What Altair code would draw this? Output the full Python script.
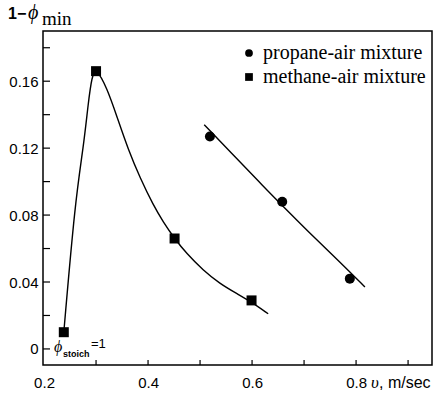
import altair as alt
import pandas as pd

# ---- data ----
meth_x = [0.238, 0.300, 0.451, 0.599]
meth_y = [0.010, 0.166, 0.066, 0.029]
prop_x = [0.519, 0.658, 0.788]
prop_y = [0.127, 0.088, 0.042]

meth_curve_x = [0.238, 0.260, 0.276, 0.285, 0.292, 0.300, 0.321, 0.340, 0.362, 0.385,
                0.410, 0.429, 0.451, 0.474, 0.506, 0.538, 0.571, 0.599, 0.631]
meth_curve_y = [0.010, 0.089, 0.121, 0.147, 0.163, 0.168, 0.156, 0.139, 0.119, 0.102,
                0.086, 0.076, 0.066, 0.057, 0.047, 0.039, 0.033, 0.028, 0.021]
prop_line_x = [0.508, 0.567, 0.619, 0.673, 0.718, 0.769, 0.817]
prop_line_y = [0.134, 0.115, 0.098, 0.081, 0.067, 0.052, 0.037]

series_names = ["propane-air mixture", "methane-air mixture"]
x_ticks = [0.3, 0.4, 0.5, 0.6, 0.7, 0.8, 0.9]
x_labels = [0.2, 0.4, 0.6, 0.8]
y_ticks = [0.0, 0.02, 0.04, 0.06, 0.08, 0.10, 0.12, 0.14, 0.16, 0.18]
y_labels = [0.0, 0.04, 0.08, 0.12, 0.16]

W, H = 389, 334
SANS = "Liberation Sans"
SERIF = "Liberation Serif"

xs = alt.Scale(domain=[0.198, 0.946], nice=False, zero=False)
ys = alt.Scale(domain=[-0.0096, 0.19], nice=False, zero=False)

pts = pd.DataFrame({
    "v": prop_x + meth_x,
    "f": prop_y + meth_y,
    "s": [series_names[0]] * len(prop_x) + [series_names[1]] * len(meth_x),
})
mc = pd.DataFrame({"v": meth_curve_x, "f": meth_curve_y})
pl = pd.DataFrame({"v": prop_line_x, "f": prop_line_y})

x_enc = alt.X("v:Q", scale=xs, axis=alt.Axis(values=x_labels, format=".1f", ticks=False, domain=False,
                                              grid=False, labelFont=SANS, labelFontSize=15,
                                              labelColor="black", labelPadding=10, title=None))
y_enc = alt.Y("f:Q", scale=ys, axis=alt.Axis(values=y_labels, format=".2~f", ticks=False, domain=False,
                                              grid=False, labelFont=SANS, labelFontSize=15,
                                              labelColor="black", labelPadding=5, title=None))

markers = alt.Chart(pts).mark_point(filled=True, size=100, color="black", opacity=1).encode(
    x=x_enc, y=y_enc,
    shape=alt.Shape("s:N", scale=alt.Scale(domain=series_names, range=["circle", "square"]),
                    legend=alt.Legend(title=None, orient="none", legendX=196, legendY=12,
                                      labelFont=SERIF, labelFontSize=20, labelColor="black",
                                      labelLimit=0,
                                      symbolSize=60, symbolFillColor="black", symbolStrokeColor="black",
                                      symbolStrokeWidth=1, labelOffset=4, rowPadding=4, padding=0)),
)

meth_line = alt.Chart(mc).mark_line(color="black", strokeWidth=1.4, interpolate="basis").encode(
    x=alt.X("v:Q", scale=xs), y=alt.Y("f:Q", scale=ys))
prop_line = alt.Chart(pl).mark_line(color="black", strokeWidth=1.4, interpolate="basis").encode(
    x=alt.X("v:Q", scale=xs), y=alt.Y("f:Q", scale=ys))

xt = alt.Chart(pd.DataFrame({"v": x_ticks})).mark_rule(color="black", strokeWidth=1.2).encode(
    x=alt.X("v:Q", scale=xs), y=alt.value(H), y2=alt.value(H - 5))
yt = alt.Chart(pd.DataFrame({"f": y_ticks})).mark_rule(color="black", strokeWidth=1.2).encode(
    y=alt.Y("f:Q", scale=ys), x=alt.value(0), x2=alt.value(7))

one = pd.DataFrame({"a": [0]})


def txt(s, x, y, font, size, style="normal", weight="normal"):
    return alt.Chart(one).mark_text(text=s, font=font, fontSize=size, fontStyle=style, fontWeight=weight,
                                    align="left", baseline="alphabetic", color="black").encode(
        x=alt.value(x), y=alt.value(y))


ox, oy = 43, 31
labels = [
    txt("1\u2212", 8 - ox, 19 - oy, SANS, 16, weight="bold"),
    txt("\u03d5", 28 - ox, 19 - oy, SERIF, 20, style="italic"),
    txt("min", 42 - ox, 25 - oy, SERIF, 19),
    txt("\u03c5", 371 - ox, 388 - oy, SERIF, 17, style="italic"),
    txt(", m/sec", 379 - ox, 388 - oy, SANS, 16),
    txt("\u03d5", 54 - ox, 352 - oy, SERIF, 16, style="italic"),
    txt("stoich", 63 - ox, 357 - oy, SANS, 9, weight="bold"),
    txt("=1", 91 - ox, 348 - oy, SANS, 13),
]

chart = alt.layer(xt, yt, meth_line, prop_line, markers, *labels).properties(
    width=W, height=H,
    autosize=alt.AutoSizeParams(type="none"),
    padding={"left": ox, "top": oy, "right": 5, "bottom": 31},
    background="white",
).configure_view(stroke="black", strokeWidth=1.5)

chart.save("out.html", embed_options={"renderer": "svg", "actions": False})
